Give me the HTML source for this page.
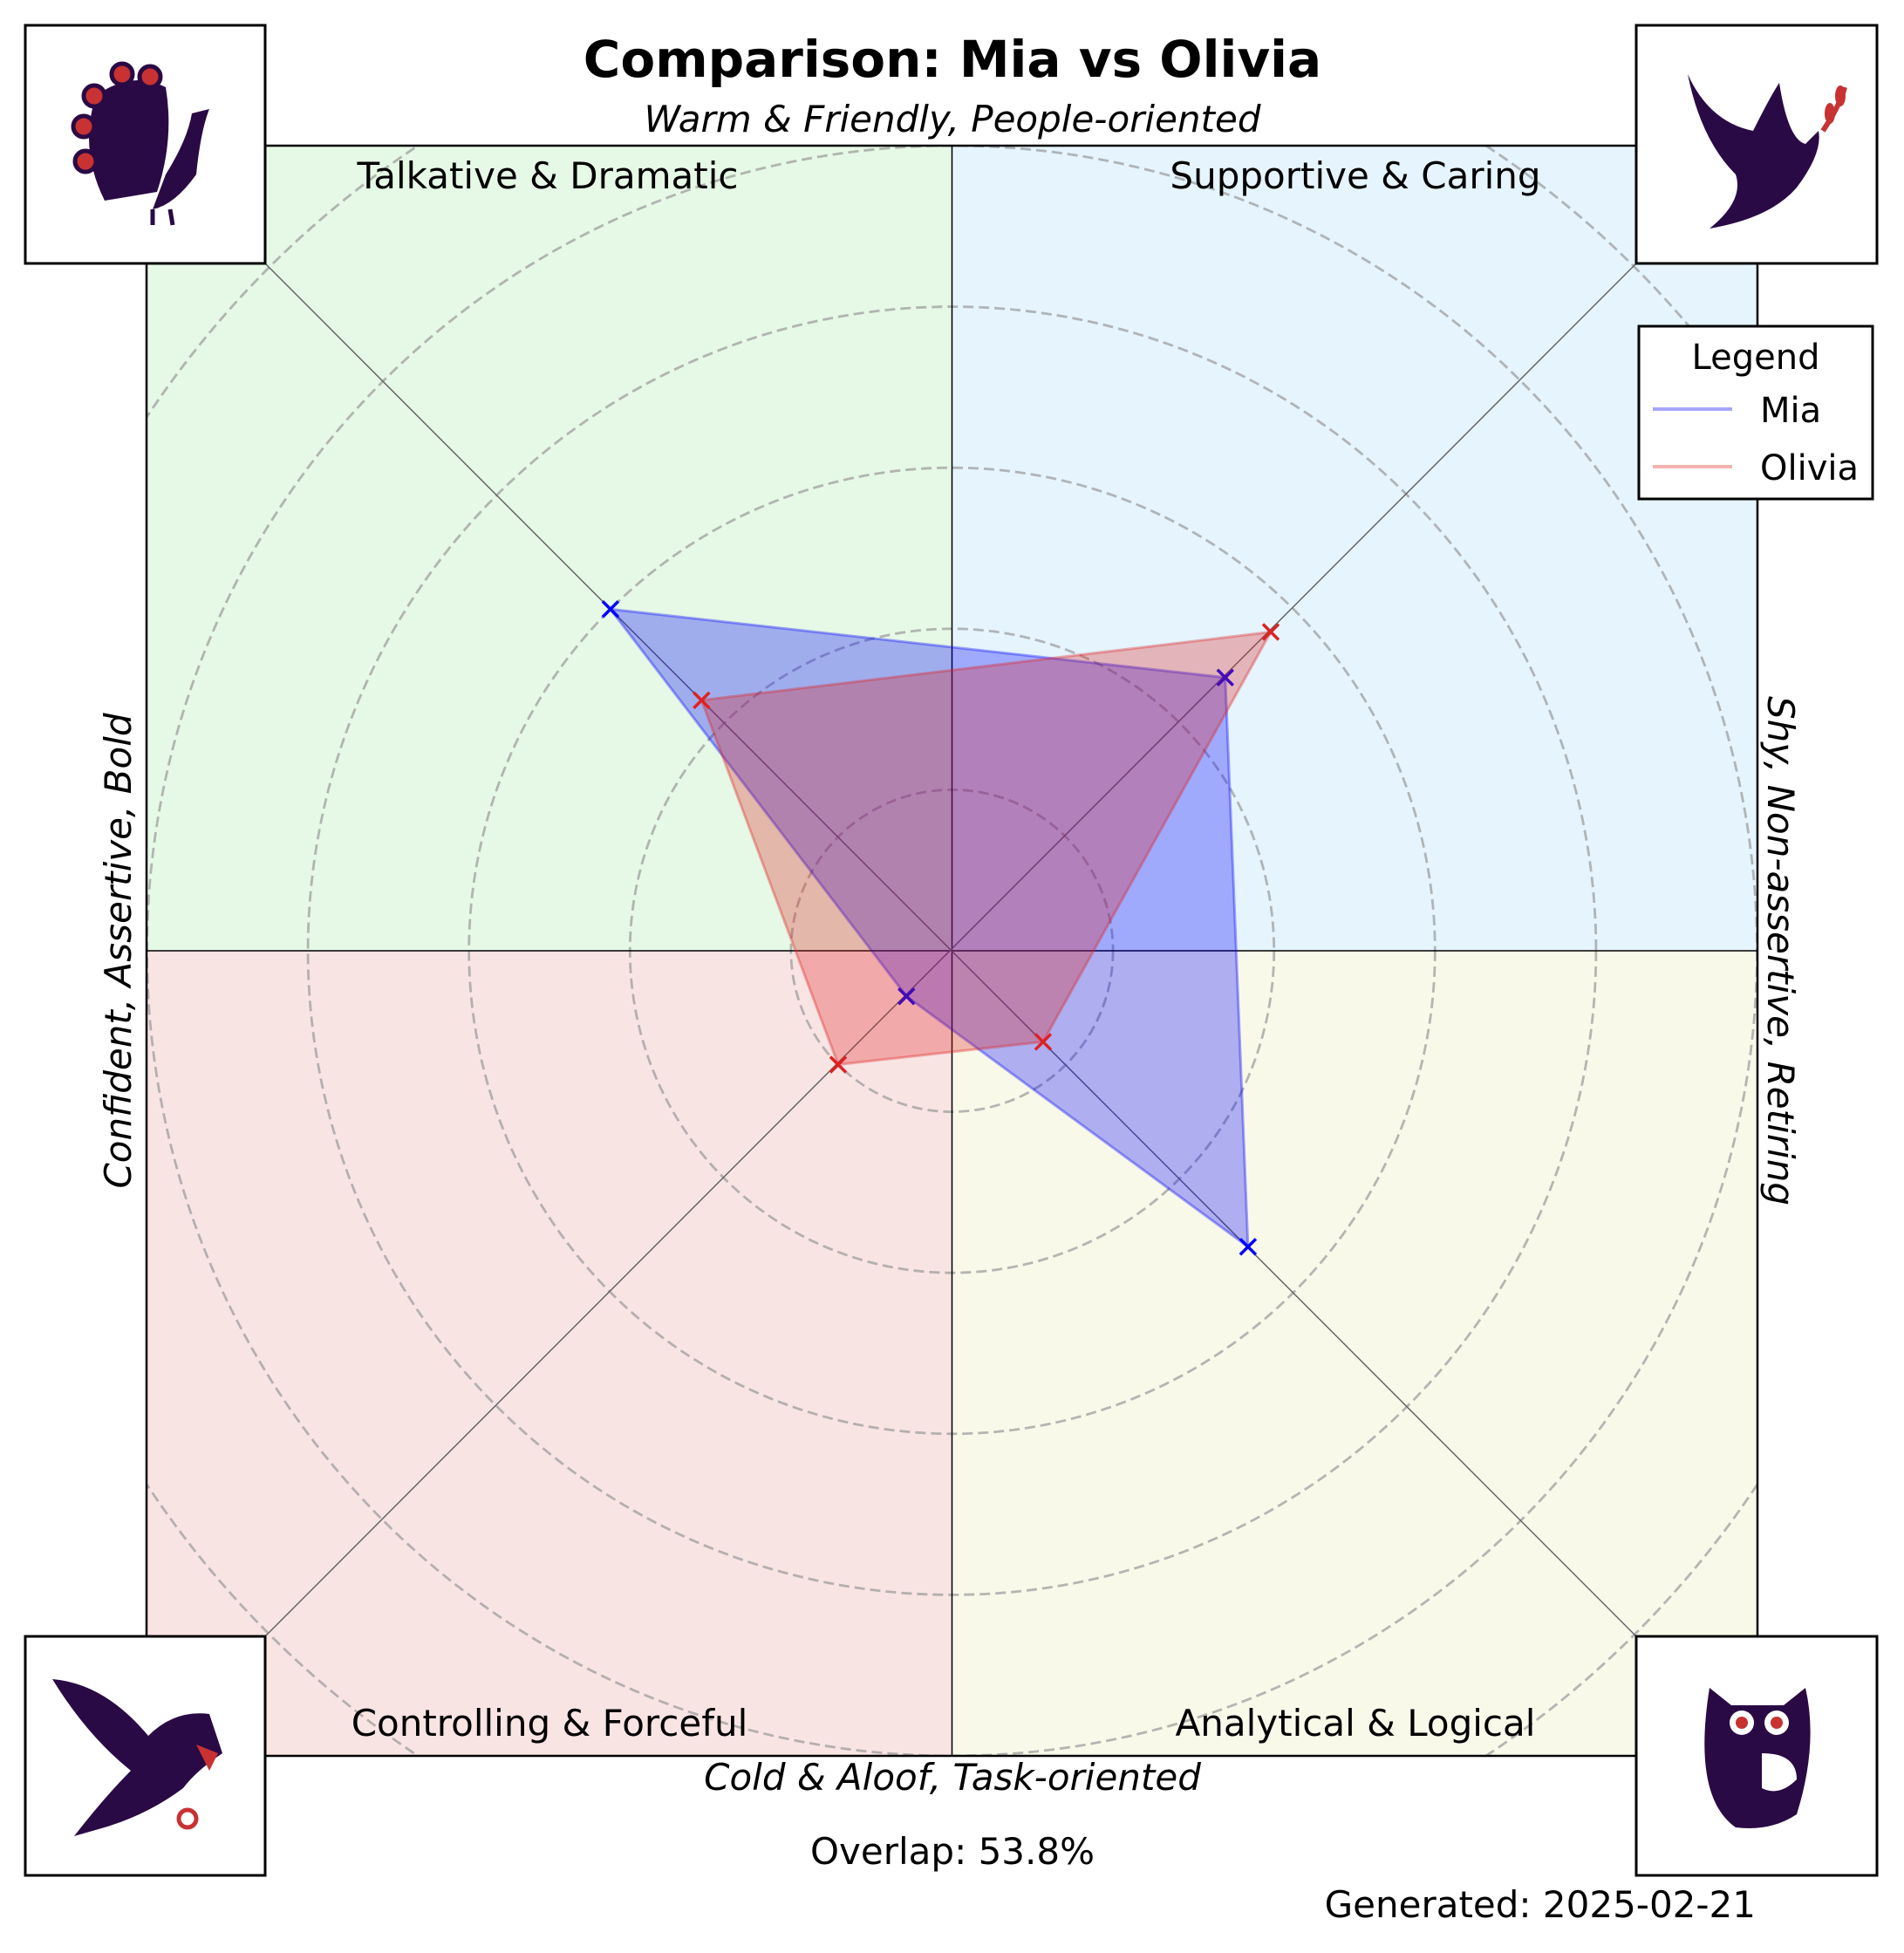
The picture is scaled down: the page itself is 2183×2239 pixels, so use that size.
<!DOCTYPE html>
<html><head><meta charset="utf-8"><style>
html,body{margin:0;padding:0;background:#fff}
svg{display:block}
text{font-family:"DejaVu Sans","Liberation Sans",sans-serif;fill:#000}
</style></head><body>
<svg id="chart" width="2183" height="2239" viewBox="0 0 2183 2239" xmlns="http://www.w3.org/2000/svg">
<g id="bg"></g>
<g id="grid"></g>
<g id="series"></g>
<g id="labels">
<text x="1092" y="88" font-size="58" font-weight="bold" text-anchor="middle">Comparison: Mia vs Olivia</text>
<text x="1092" y="151" font-size="42" font-style="italic" text-anchor="middle">Warm &amp; Friendly, People-oriented</text>
<text x="1092" y="2052" font-size="42" font-style="italic" text-anchor="middle">Cold &amp; Aloof, Task-oriented</text>
<text transform="translate(150,1090) rotate(-90)" font-size="42" font-style="italic" text-anchor="middle">Confident, Assertive, Bold</text>
<text transform="translate(2027,1090) rotate(90)" font-size="42" font-style="italic" text-anchor="middle">Shy, Non-assertive, Retiring</text>
<text x="628" y="216" font-size="42" text-anchor="middle">Talkative &amp; Dramatic</text>
<text x="1554" y="216" font-size="42" text-anchor="middle">Supportive &amp; Caring</text>
<text x="630" y="1990" font-size="42" text-anchor="middle">Controlling &amp; Forceful</text>
<text x="1554" y="1990" font-size="42" text-anchor="middle">Analytical &amp; Logical</text>
<text x="1092" y="2137" font-size="42" text-anchor="middle">Overlap: 53.8%</text>
<text x="2013" y="2198" font-size="42" text-anchor="end">Generated: 2025-02-21</text>
</g>
<g>
<rect x="1879" y="374" width="268" height="198" fill="#fff" stroke="#000" stroke-width="3"/>
<text x="2013" y="423" font-size="40" text-anchor="middle">Legend</text>
<line x1="1895" y1="469" x2="1986" y2="469" stroke="#0000ff" stroke-opacity="0.35" stroke-width="4"/>
<text x="2018" y="484" font-size="40">Mia</text>
<line x1="1895" y1="535" x2="1986" y2="535" stroke="#dd2222" stroke-opacity="0.35" stroke-width="4"/>
<text x="2018" y="550" font-size="40">Olivia</text>
</g>
<g>
<rect x="29" y="29" width="275" height="273" fill="#fff" stroke="#000" stroke-width="3"/>
<path d="M120 230 Q90 170 110 110 Q150 80 190 100 Q200 160 180 220 Z" fill="#2a0a45"/>
<circle cx="108" cy="110" r="12" fill="#c83232" stroke="#2a0a45" stroke-width="5"/>
<circle cx="140" cy="85" r="12" fill="#c83232" stroke="#2a0a45" stroke-width="5"/>
<circle cx="172" cy="88" r="12" fill="#c83232" stroke="#2a0a45" stroke-width="5"/>
<circle cx="96" cy="145" r="12" fill="#c83232" stroke="#2a0a45" stroke-width="5"/>
<circle cx="98" cy="185" r="12" fill="#c83232" stroke="#2a0a45" stroke-width="5"/>
<path d="M190 200 Q215 160 220 130 L240 125 Q230 150 225 200 Q200 235 175 240 Z" fill="#2a0a45"/>
<line x1="175" y1="240" x2="175" y2="258" stroke="#2a0a45" stroke-width="5"/>
<line x1="195" y1="240" x2="198" y2="258" stroke="#2a0a45" stroke-width="5"/>
</g>
<g>
<rect x="1876" y="29" width="276" height="273" fill="#fff" stroke="#000" stroke-width="3"/>
<path d="M1935 85 Q1960 140 2010 150 Q2030 110 2040 95 Q2050 160 2070 165 L2085 150 Q2090 175 2060 215 Q2030 250 1960 262 Q2000 230 1990 200 Q1950 160 1935 85 Z" fill="#2a0a45"/>
<path d="M2090 150 Q2110 120 2115 100" stroke="#c83232" stroke-width="6" fill="none"/>
<ellipse cx="2110" cy="110" rx="6" ry="12" fill="#c83232"/>
<ellipse cx="2098" cy="130" rx="6" ry="12" fill="#c83232"/>
</g>
<g>
<rect x="29" y="1876" width="275" height="274" fill="#fff" stroke="#000" stroke-width="3"/>
<path d="M60 1925 Q120 1930 170 1990 Q200 1960 240 1965 L255 2010 Q225 2030 210 2050 Q170 2080 120 2095 L85 2105 Q120 2060 150 2030 Q100 1990 60 1925 Z" fill="#2a0a45"/>
<path d="M225 2000 L250 2010 L240 2030 Z" fill="#c83232"/>
<circle cx="215" cy="2085" r="10" fill="none" stroke="#c83232" stroke-width="5"/>
</g>
<g>
<rect x="1876" y="1876" width="276" height="274" fill="#fff" stroke="#000" stroke-width="3"/>
<path d="M1960 1935 L1985 1955 L2045 1955 L2070 1935 Q2085 2000 2060 2080 Q2030 2100 1990 2095 Q1940 2060 1960 1935 Z" fill="#2a0a45"/>
<circle cx="1997" cy="1975" r="14" fill="#fff"/><circle cx="1997" cy="1975" r="7" fill="#c83232"/>
<circle cx="2037" cy="1975" r="14" fill="#fff"/><circle cx="2037" cy="1975" r="7" fill="#c83232"/>
<path d="M2020 2010 Q2060 2010 2060 2040 Q2040 2060 2020 2050 Z" fill="#fff"/>
</g>
<script>
const categories = ["Talkative & Dramatic","Supportive & Caring","Analytical & Logical","Controlling & Forceful"];
const miaValues = [3.0, 2.4, 2.6, 0.4];
const oliviaValues = [2.2, 2.8, 0.8, 1.0];
const ringLevels = [1,2,3,4,5,6];

const NS="http://www.w3.org/2000/svg";
const cx=1091.5, cy=1090, L=168, R=2015, T=167, B=2013, unit=184.6;
const angles=[-135,-45,45,135];
function px(v,i){const a=angles[i]*Math.PI/180;return cx+Math.cos(a)*v*unit;}
function py(v,i){const a=angles[i]*Math.PI/180;return cy+Math.sin(a)*v*unit;}
function mk(tag,attrs,parent){const e=document.createElementNS(NS,tag);for(const k in attrs)e.setAttribute(k,attrs[k]);parent.appendChild(e);return e;}

const bg=document.getElementById('bg');
const quads=[[L,T,cx-L,cy-T,'#e6f8e6','quadrant-talkative'],[cx,T,R-cx,cy-T,'#e5f4fd','quadrant-supportive'],[L,cy,cx-L,B-cy,'#f9e4e4','quadrant-controlling'],[cx,cy,R-cx,B-cy,'#f9f9ea','quadrant-analytical']];
quads.forEach(q=>{const r=mk('rect',{x:q[0],y:q[1],width:q[2],height:q[3],fill:q[4]},bg);

});
const grid=document.getElementById('grid');
const cp=mk('clipPath',{id:'clipbox'},grid);mk('rect',{x:L,y:T,width:R-L,height:B-T},cp);
ringLevels.forEach(l=>{const c=mk('circle',{cx:cx,cy:cy,r:l*unit,fill:'none',stroke:'#999','stroke-opacity':0.7,'stroke-width':2.8,'stroke-dasharray':'12 6','clip-path':'url(#clipbox)'},grid);

});
mk('line',{x1:cx,y1:T,x2:cx,y2:B,stroke:'#000','stroke-width':1.5},grid);
mk('line',{x1:L,y1:cy,x2:R,y2:cy,stroke:'#000','stroke-width':1.5},grid);
mk('line',{x1:304,y1:302,x2:1876,y2:1876,stroke:'#666','stroke-width':1.5},grid);
mk('line',{x1:1876,y1:302,x2:304,y2:1876,stroke:'#666','stroke-width':1.5},grid);
mk('rect',{x:L,y:T,width:R-L,height:B-T,fill:'none',stroke:'#000','stroke-width':2.5},grid);

const ser=document.getElementById('series');
function draw(vals,col,name){
  const pts=vals.map((v,i)=>px(v,i).toFixed(1)+','+py(v,i).toFixed(1)).join(' ');
  const p=mk('polygon',{points:pts,fill:col,'fill-opacity':0.3,stroke:col,'stroke-opacity':0.35,'stroke-width':3},ser);
  
  
  vals.forEach((v,i)=>{const x=px(v,i),y=py(v,i),s=9;
    const g=mk('path',{d:`M${x-s} ${y-s}L${x+s} ${y+s}M${x-s} ${y+s}L${x+s} ${y-s}`,stroke:col,'stroke-width':3.5},ser);
    
    });
}
draw(miaValues,'#0000ff','mia');
draw(oliviaValues,'#dd2222','olivia');
</script>
</svg>
</body></html>
